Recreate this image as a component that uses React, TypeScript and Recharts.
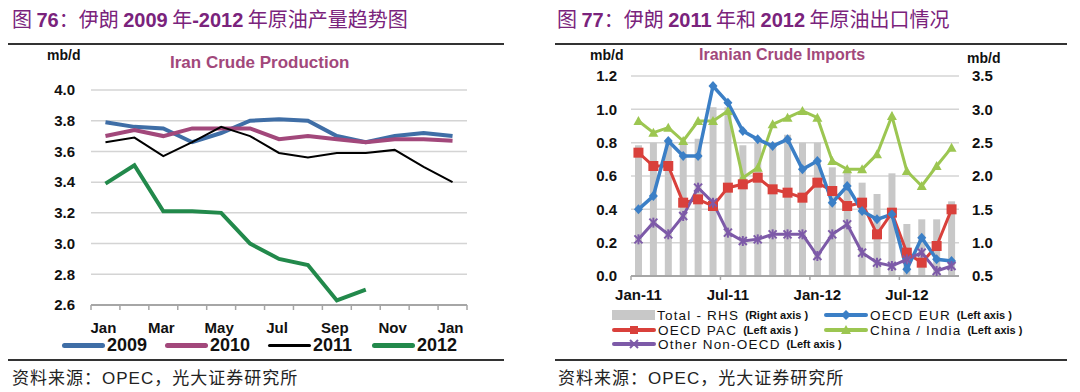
import React from 'react';
import { ComposedChart, Line, Bar, XAxis, YAxis, CartesianGrid } from 'recharts';

// ---- Fig 76: Iran crude production (mb/d) ----
const months = ['Jan', 'Feb', 'Mar', 'Apr', 'May', 'Jun', 'Jul', 'Aug', 'Sep', 'Oct', 'Nov', 'Dec', 'Jan'];
const prod2009 = [3.79, 3.76, 3.75, 3.66, 3.72, 3.8, 3.81, 3.8, 3.7, 3.66, 3.7, 3.72, 3.7];
const prod2010 = [3.7, 3.74, 3.7, 3.75, 3.75, 3.75, 3.68, 3.7, 3.68, 3.66, 3.68, 3.68, 3.67];
const prod2011 = [3.66, 3.69, 3.57, 3.66, 3.76, 3.7, 3.59, 3.56, 3.59, 3.59, 3.61, 3.5, 3.4];
const prod2012 = [3.39, 3.51, 3.21, 3.21, 3.2, 3.0, 2.9, 2.86, 2.63, 2.7, null, null, null];
const prodTicks = [2.6, 2.8, 3.0, 3.2, 3.4, 3.6, 3.8, 4.0];

// ---- Fig 77: Iranian crude imports ----
const importMonths = [
  'Jan-11', 'Feb-11', 'Mar-11', 'Apr-11', 'May-11', 'Jun-11', 'Jul-11', 'Aug-11', 'Sep-11', 'Oct-11', 'Nov-11', 'Dec-11',
  'Jan-12', 'Feb-12', 'Mar-12', 'Apr-12', 'May-12', 'Jun-12', 'Jul-12', 'Aug-12', 'Sep-12', 'Oct-12',
];
const totalRhs = [2.46, 2.5, 2.5, 2.5, 2.56, 3.03, 3.03, 2.46, 2.5, 2.5, 2.62, 2.5, 2.5, 2.13, 2.05, 1.9, 1.73, 2.04, 1.28, 1.35, 1.35, 1.62];
const oecdEur = [0.4, 0.48, 0.81, 0.72, 0.72, 1.14, 1.04, 0.87, 0.82, 0.78, 0.82, 0.64, 0.69, 0.44, 0.54, 0.39, 0.34, 0.37, 0.04, 0.23, 0.1, 0.09];
const oecdPac = [0.74, 0.66, 0.66, 0.44, 0.46, 0.42, 0.53, 0.55, 0.59, 0.52, 0.5, 0.47, 0.56, 0.51, 0.42, 0.44, 0.25, 0.38, 0.14, 0.08, 0.18, 0.4];
const chinaIndia = [0.93, 0.86, 0.89, 0.81, 0.93, 0.93, 0.99, 0.59, 0.65, 0.91, 0.95, 0.99, 0.95, 0.69, 0.64, 0.64, 0.73, 0.96, 0.63, 0.54, 0.66, 0.77];
const otherNonOecd = [0.22, 0.32, 0.25, 0.36, 0.53, 0.44, 0.26, 0.21, 0.22, 0.25, 0.25, 0.25, 0.12, 0.25, 0.31, 0.14, 0.08, 0.06, 0.1, 0.14, 0.03, 0.06];
const leftTicks = [0, 0.2, 0.4, 0.6, 0.8, 1.0, 1.2];
const rightTicks = [0.5, 1.0, 1.5, 2.0, 2.5, 3.0, 3.5];

// month names repeat (Jan twice), so the axis keys on a position index
const prodData = months.map((m, i) => ({
  k: `${i}`, m, y2009: prod2009[i], y2010: prod2010[i], y2011: prod2011[i], y2012: prod2012[i],
}));
const importData = importMonths.map((m, i) => ({
  m, total: totalRhs[i], eur: oecdEur[i], pac: oecdPac[i], china: chinaIndia[i], other: otherNonOecd[i],
}));

const SANS = '"Liberation Sans", Arial, sans-serif';
const CJK = '"Noto Sans CJK SC", sans-serif';
const PURPLE = '#7a237c';
const AXIS_GRAY = '#a6a6a6';

const C2009 = '#3f6ea6';
const C2010 = '#a2487b';
const C2011 = '#000000';
const C2012 = '#22894b';

const CEUR = '#3b7fc6';
const CPAC = '#d9403b';
const CCHINA = '#9cc651';
const COTHER = '#7d5aa8';
const CBAR = '#c8c8c8';

// left plot: x 91..467, y 90..305
const PROD_AXIS_Y = 305;
const PROD_PLOT_W = 376;
const PROD_HALF = PROD_PLOT_W / months.length / 2;
const IMP_AXIS_Y = 276;

function ProdTick(props: any) {
  const { x, index } = props;
  const half = PROD_HALF;
  return (
    <g>
      <line x1={x - half} x2={x - half} y1={PROD_AXIS_Y} y2={PROD_AXIS_Y + 5} stroke={AXIS_GRAY} strokeWidth={1.5} />
      {index === months.length - 1 && (
        <line x1={x + half} x2={x + half} y1={PROD_AXIS_Y} y2={PROD_AXIS_Y + 5} stroke={AXIS_GRAY} strokeWidth={1.5} />
      )}
      {index % 2 === 0 && (
        <text x={x - 2} y={PROD_AXIS_Y + 28} textAnchor="middle" fontFamily={SANS} fontWeight="bold" fontSize={15} fill="#111">
          {months[index]}
        </text>
      )}
    </g>
  );
}

function ImpTick(props: any) {
  const { x, payload, index } = props;
  const half = payload?.offset || 7.4;
  if (index % 6 !== 0) return <g />;
  return (
    <g>
      <line x1={x - half} x2={x - half} y1={IMP_AXIS_Y} y2={IMP_AXIS_Y + 4} stroke={AXIS_GRAY} strokeWidth={1.5} />
      <text x={x} y={IMP_AXIS_Y + 24} textAnchor="middle" fontFamily={SANS} fontWeight="bold" fontSize={15} fill="#111">
        {payload.value}
      </text>
    </g>
  );
}

const DiamondDot = (p: any) => {
  const { cx, cy, index } = p;
  if (cx == null || cy == null) return <g key={index} />;
  return <path key={index} d={`M${cx},${cy - 5}L${cx + 4.5},${cy}L${cx},${cy + 5}L${cx - 4.5},${cy}Z`} fill={CEUR} />;
};
const SquareDot = (p: any) => {
  const { cx, cy, index } = p;
  if (cx == null || cy == null) return <g key={index} />;
  return <rect key={index} x={cx - 5} y={cy - 5} width={10} height={10} fill={CPAC} />;
};
const TriangleDot = (p: any) => {
  const { cx, cy, index } = p;
  if (cx == null || cy == null) return <g key={index} />;
  return <path key={index} d={`M${cx},${cy - 5}L${cx + 5},${cy + 4}L${cx - 5},${cy + 4}Z`} fill={CCHINA} />;
};
const StarDot = (p: any) => {
  const { cx, cy, index } = p;
  if (cx == null || cy == null) return <g key={index} />;
  return (
    <g key={index} stroke={COTHER} strokeWidth={2}>
      <line x1={cx - 4} y1={cy - 4} x2={cx + 4} y2={cy + 4} />
      <line x1={cx - 4} y1={cy + 4} x2={cx + 4} y2={cy - 4} />
      <line x1={cx} y1={cy - 5} x2={cx} y2={cy + 5} />
    </g>
  );
};

function Title({ num, parts, left }: { num: string; parts: [string, boolean][]; left: number }) {
  return (
    <div style={{ position: 'absolute', left, top: 5, fontSize: 20, color: PURPLE, whiteSpace: 'nowrap', lineHeight: '28px' }}>
      <span style={{ fontFamily: CJK }}>图 </span>
      <span style={{ fontFamily: SANS, fontWeight: 'bold' }}>{num}</span>
      {parts.map(([t, bold], i) => (
        <span key={i} style={{ fontFamily: bold ? SANS : CJK, fontWeight: bold ? 'bold' : 'normal' }}>{t}</span>
      ))}
    </div>
  );
}

const abs = (left: number, top: number, extra: React.CSSProperties = {}): React.CSSProperties => ({
  position: 'absolute', left, top, whiteSpace: 'nowrap', ...extra,
});

function LineSwatch({ color, marker }: { color: string; marker?: 'diamond' | 'square' | 'triangle' | 'star' }) {
  return (
    <svg width={44} height={12} style={{ display: 'block' }}>
      <line x1={2} y1={6} x2={42} y2={6} stroke={color} strokeWidth={4} strokeLinecap="round" />
      {marker === 'diamond' && <path d="M22,1L27,6L22,11L17,6Z" fill={color} />}
      {marker === 'square' && <rect x={18} y={2} width={8} height={8} fill={color} />}
      {marker === 'triangle' && <path d="M22,1L27,10L17,10Z" fill={color} />}
      {marker === 'star' && (
        <g stroke={color} strokeWidth={2}>
          <line x1={18} y1={2} x2={26} y2={10} />
          <line x1={18} y1={10} x2={26} y2={2} />
        </g>
      )}
    </svg>
  );
}

function ImpLegendItem({ left, top, swatch, label, note }: { left: number; top: number; swatch: React.ReactNode; label: string; note: string }) {
  return (
    <div style={abs(left, top, { display: 'flex', alignItems: 'center', height: 16 })}>
      {swatch}
      <span style={{ fontFamily: SANS, fontSize: 13.5, letterSpacing: 1.2, color: '#111', marginLeft: 2 }}>{label}</span>
      <span style={{ fontFamily: SANS, fontSize: 11, fontWeight: 'bold', color: '#111', marginLeft: 6 }}>{note}</span>
    </div>
  );
}

function Source({ left }: { left: number }) {
  return (
    <div style={abs(left, 366, { fontSize: 17, color: '#222', lineHeight: '22px', letterSpacing: 1 })}>
      <span style={{ fontFamily: CJK }}>资料来源：</span>
      <span style={{ fontFamily: SANS }}>OPEC</span>
      <span style={{ fontFamily: CJK }}>，光大证券研究所</span>
    </div>
  );
}

export default function App() {
  return (
    <div style={{ position: 'absolute', left: 0, top: 0, width: 1080, height: 392, background: '#fff', overflow: 'hidden' }}>
      {/* ---------- left panel ---------- */}
      <Title num="76" left={12} parts={[['：伊朗 ', false], ['2009', true], [' 年', false], ['-2012', true], [' 年原油产量趋势图', false]]} />
      <div style={abs(8, 43, { width: 496, height: 1.5, background: '#333' })} />
      <div style={abs(47, 47, { fontFamily: SANS, fontWeight: 'bold', fontSize: 14, color: '#111' })}>mb/d</div>
      <div style={abs(170, 53, { fontFamily: SANS, fontWeight: 'bold', fontSize: 17, color: '#a2487b' })}>Iran Crude Production</div>

      <div style={abs(0, 0)}>
        <ComposedChart width={540} height={392} data={prodData} margin={{ top: 90, right: 73, bottom: 57, left: 0 }}>
          <CartesianGrid vertical={false} stroke="#d4d4d4" strokeWidth={1.5} />
          <XAxis
            dataKey="k"
            height={30}
            interval={0}
            padding={{ left: PROD_HALF, right: PROD_HALF }}
            axisLine={{ stroke: AXIS_GRAY, strokeWidth: 2 }}
            tickLine={false}
            tick={(p: any) => <ProdTick {...p} />}
          />
          <YAxis
            width={91}
            domain={[2.6, 4.0]}
            ticks={prodTicks}
            interval={0}
            axisLine={false}
            tickLine={false}
            tickSize={0}
            tickMargin={16}
            tickFormatter={(v: number) => v.toFixed(1)}
            tick={{ fontFamily: SANS, fontWeight: 'bold', fontSize: 15, fill: '#111' }}
          />
          <Line dataKey="y2009" stroke={C2009} strokeWidth={4} dot={false} isAnimationActive={false} />
          <Line dataKey="y2010" stroke={C2010} strokeWidth={4} dot={false} isAnimationActive={false} />
          <Line dataKey="y2011" stroke={C2011} strokeWidth={2} dot={false} isAnimationActive={false} />
          <Line dataKey="y2012" stroke={C2012} strokeWidth={4} dot={false} isAnimationActive={false} />
        </ComposedChart>
      </div>

      {[
        { c: C2009, t: '2009', x: 62 },
        { c: C2010, t: '2010', x: 165 },
        { c: C2011, t: '2011', x: 268 },
        { c: C2012, t: '2012', x: 372 },
      ].map((it) => (
        <div key={it.t} style={abs(it.x, 335, { display: 'flex', alignItems: 'center', height: 20 })}>
          <div style={{ width: 43, height: it.t === '2011' ? 3 : 5, borderRadius: 3, background: it.c }} />
          <span style={{ fontFamily: SANS, fontWeight: 'bold', fontSize: 18, color: '#111', marginLeft: 2 }}>{it.t}</span>
        </div>
      ))}
      <div style={abs(8, 359, { width: 496, height: 1.5, background: '#333' })} />
      <Source left={12} />

      {/* ---------- right panel ---------- */}
      <Title num="77" left={557} parts={[['：伊朗 ', false], ['2011', true], [' 年和 ', false], ['2012', true], [' 年原油出口情况', false]]} />
      <div style={abs(555, 43, { width: 512, height: 1.5, background: '#333' })} />
      <div style={abs(590, 47, { fontFamily: SANS, fontWeight: 'bold', fontSize: 14, color: '#111' })}>mb/d</div>
      <div style={abs(699, 46, { fontFamily: SANS, fontWeight: 'bold', fontSize: 16, color: '#a2487b' })}>Iranian Crude Imports</div>
      <div style={abs(967, 50, { fontFamily: SANS, fontWeight: 'bold', fontSize: 14, color: '#111' })}>mb/d</div>

      <div style={abs(540, 0)}>
        <ComposedChart width={540} height={392} data={importData} margin={{ top: 76, right: 61, bottom: 91, left: 0 }} barCategoryGap="55%">
          <CartesianGrid vertical={false} stroke="#d4d4d4" strokeWidth={1.5} yAxisId="left" />
          <XAxis
            dataKey="m"
            height={25}
            interval={0}
            axisLine={{ stroke: AXIS_GRAY, strokeWidth: 2 }}
            tickLine={false}
            tick={(p: any) => <ImpTick {...p} />}
          />
          <YAxis
            yAxisId="left"
            width={91}
            domain={[0, 1.2]}
            ticks={leftTicks}
            interval={0}
            axisLine={false}
            tickLine={false}
            tickSize={0}
            tickMargin={14}
            tickFormatter={(v: number) => v.toFixed(1)}
            tick={{ fontFamily: SANS, fontWeight: 'bold', fontSize: 15, fill: '#111' }}
          />
          <YAxis
            yAxisId="right"
            orientation="right"
            width={60}
            domain={[0.5, 3.5]}
            ticks={rightTicks}
            interval={0}
            axisLine={false}
            tickLine={false}
            tickSize={0}
            tickMargin={13}
            tickFormatter={(v: number) => v.toFixed(1)}
            tick={{ fontFamily: SANS, fontWeight: 'bold', fontSize: 15, fill: '#111' }}
          />
          <Bar yAxisId="right" dataKey="total" fill={CBAR} barSize={7} isAnimationActive={false} />
          <Line yAxisId="left" dataKey="china" stroke={CCHINA} strokeWidth={3} dot={TriangleDot} isAnimationActive={false} />
          <Line yAxisId="left" dataKey="pac" stroke={CPAC} strokeWidth={3} dot={SquareDot} isAnimationActive={false} />
          <Line yAxisId="left" dataKey="eur" stroke={CEUR} strokeWidth={3.5} dot={DiamondDot} isAnimationActive={false} />
          <Line yAxisId="left" dataKey="other" stroke={COTHER} strokeWidth={3} dot={StarDot} isAnimationActive={false} />
        </ComposedChart>
      </div>

      <ImpLegendItem left={612} top={307} swatch={<div style={{ width: 43, height: 10, background: CBAR }} />} label="Total - RHS" note="(Right axis )" />
      <ImpLegendItem left={824} top={307} swatch={<LineSwatch color={CEUR} marker="diamond" />} label="OECD EUR" note="(Left axis )" />
      <ImpLegendItem left={612} top={322} swatch={<LineSwatch color={CPAC} marker="square" />} label="OECD PAC" note="(Left axis )" />
      <ImpLegendItem left={824} top={322} swatch={<LineSwatch color={CCHINA} marker="triangle" />} label="China / India" note="(Left axis )" />
      <ImpLegendItem left={612} top={336} swatch={<LineSwatch color={COTHER} marker="star" />} label="Other Non-OECD" note="(Left axis )" />

      <div style={abs(555, 359, { width: 512, height: 1.5, background: '#333' })} />
      <Source left={558} />
    </div>
  );
}
